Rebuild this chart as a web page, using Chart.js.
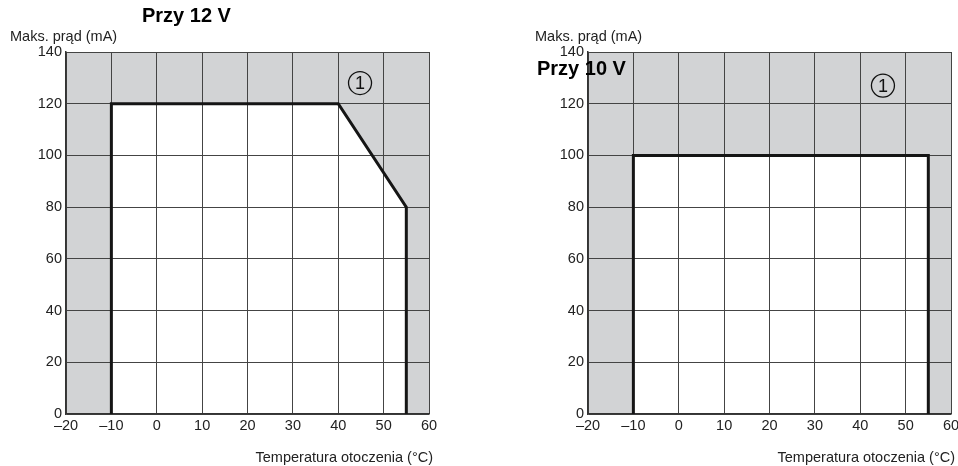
<!DOCTYPE html>
<html>
<head>
<meta charset="utf-8">
<script src="https://cdn.jsdelivr.net/npm/chart.js@4.4.1/dist/chart.umd.min.js"></script>
<style>
    html, body { margin: 0; padding: 0; background: #fff; overflow: hidden; }
    #wrap { position: relative; width: 958px; height: 466px; overflow: hidden; }
    .box { position: absolute; top: 0; height: 466px; }
</style>
</head>
<body>
<div id="wrap">
    <div class="box" style="left:0;width:479px"><canvas id="chart12"></canvas></div>
    <div class="box" style="left:479px;width:500px"><canvas id="chart10"></canvas></div>
</div>
<script>
// data
const tempTicks = [-20, -10, 0, 10, 20, 30, 40, 50, 60];
const currentTicks = [0, 20, 40, 60, 80, 100, 120, 140];

const temps12 = [-10, -10, 40, 55, 55];
const current12 = [0, 120, 120, 80, 0];

const temps10 = [-10, -10, 55, 55];
const current10 = [0, 100, 100, 0];

// position of the circled "1" mark, in data units
const mark12 = [44.8, 128];
const mark10 = [45, 127];

const FONT = '"Liberation Sans", Arial, Helvetica, sans-serif';

// gray plot background, slipped in behind everything already drawn
const areaBackground = {
    id: 'areaBackground',
    afterDraw(chart) {
        const a = chart.chartArea;
        const ctx = chart.ctx;
        ctx.save();
        ctx.globalCompositeOperation = 'destination-over';
        ctx.fillStyle = '#d2d3d5';
        ctx.fillRect(a.left, a.top, a.right - a.left, a.bottom - a.top);
        ctx.restore();
    }
};

const labels = {
    id: 'labels',
    afterDraw(chart, args, opts) {
        const ctx = chart.ctx;
        const x = chart.scales.x;
        const y = chart.scales.y;
        ctx.save();
        ctx.textBaseline = 'middle';

        // circled 1
        const cx = x.getPixelForValue(opts.mark[0]);
        const cy = y.getPixelForValue(opts.mark[1]);
        ctx.strokeStyle = '#111';
        ctx.lineWidth = 1.3;
        ctx.beginPath();
        ctx.arc(cx, cy, 11.5, 0, Math.PI * 2);
        ctx.stroke();
        ctx.fillStyle = '#111';
        ctx.textAlign = 'center';
        ctx.font = '18px ' + FONT;
        ctx.fillText('1', cx, cy + 1);

        // y axis title
        ctx.textAlign = 'left';
        ctx.font = '14.5px ' + FONT;
        ctx.fillStyle = '#222';
        ctx.fillText('Maks. prąd (mA)', opts.yTitleX, 37);

        // x axis title
        ctx.textAlign = 'right';
        ctx.fillText('Temperatura otoczenia (°C)', opts.xTitleX, 458);

        // chart title
        ctx.textAlign = 'left';
        ctx.fillStyle = '#000';
        ctx.font = 'bold 20px ' + FONT;
        ctx.fillText(opts.title, opts.titleX, opts.titleY);
        ctx.restore();
    }
};

function makeChart(id, temps, current, cfg) {
    const points = temps.map(function (t, i) { return { x: t, y: current[i] }; });
    return new Chart(document.getElementById(id), {
        type: 'scatter',
        data: {
            datasets: [{
                data: points,
                showLine: true,
                borderColor: '#151515',
                borderWidth: 3,
                backgroundColor: '#ffffff',
                fill: 'origin',
                pointRadius: 0,
                tension: 0
            }]
        },
        options: {
            responsive: true,
            maintainAspectRatio: false,
            animation: false,
            layout: { padding: { left: 0, top: 52, right: cfg.padRight, bottom: 0 } },
            plugins: {
                legend: { display: false },
                tooltip: { enabled: false },
                filler: { drawTime: 'beforeDraw' },
                labels: cfg
            },
            scales: {
                x: {
                    type: 'linear',
                    min: tempTicks[0],
                    max: tempTicks[tempTicks.length - 1],
                    afterBuildTicks(scale) { scale.ticks = tempTicks.map(function (v) { return { value: v }; }); },
                    afterFit(scale) { scale.height = 52; },
                    grid: { color: '#444', lineWidth: 1, drawTicks: false },
                    border: { color: '#333', width: 1.5 },
                    ticks: {
                        padding: 3,
                        color: '#222',
                        maxRotation: 0,
                        autoSkip: false,
                        font: { family: FONT, size: 14.5 },
                        callback: function (v) { return String(v).replace('-', '\u2013'); }
                    }
                },
                y: {
                    min: currentTicks[0],
                    max: currentTicks[currentTicks.length - 1],
                    afterBuildTicks(scale) { scale.ticks = currentTicks.map(function (v) { return { value: v }; }); },
                    afterFit(scale) { scale.width = cfg.yWidth; },
                    grid: { color: '#444', lineWidth: 1, drawTicks: false },
                    border: { color: '#333', width: 1.5 },
                    ticks: {
                        padding: 4,
                        color: '#222',
                        font: { family: FONT, size: 14.5 }
                    }
                }
            }
        },
        plugins: [areaBackground, labels]
    });
}

makeChart('chart12', temps12, current12, {
    yWidth: 66, padRight: 50, mark: mark12,
    title: 'Przy 12 V', titleX: 142, titleY: 16,
    yTitleX: 10, xTitleX: 433
});

makeChart('chart10', temps10, current10, {
    yWidth: 109, padRight: 28, mark: mark10,
    title: 'Przy 10 V', titleX: 58, titleY: 69,
    yTitleX: 56, xTitleX: 476
});
</script>
</body>
</html>
